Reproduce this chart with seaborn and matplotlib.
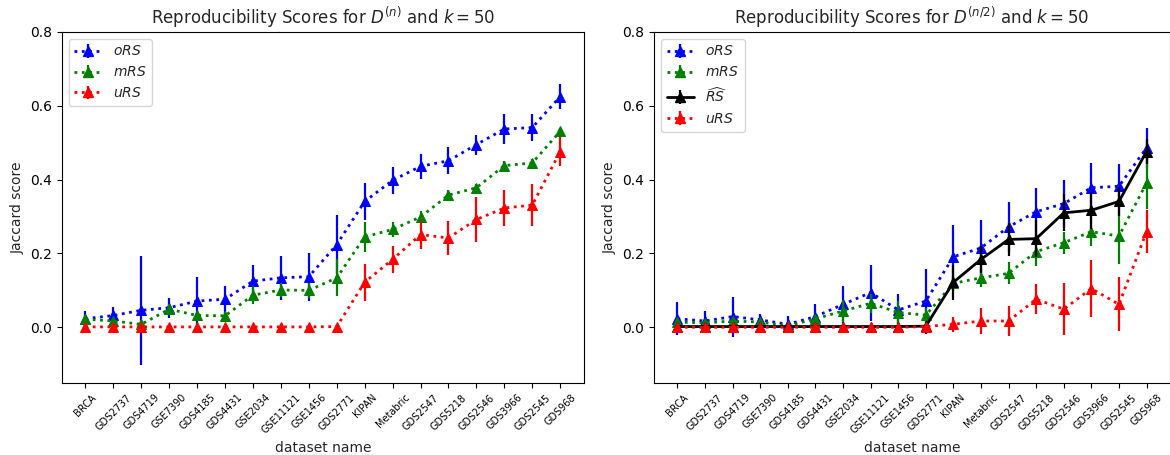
import numpy as np
import pandas as pd
import matplotlib
matplotlib.use("Agg")
import matplotlib.pyplot as plt
import seaborn as sns

datasets = ["BRCA", "GDS2737", "GDS4719", "GSE7390", "GDS4185", "GDS4431", "GSE2034",
            "GSE11121", "GSE1456", "GDS2771", "KIPAN", "Metabric", "GDS2547", "GDS5218",
            "GDS2546", "GDS3966", "GDS2545", "GDS968"]

# Panel 1: D^(n)
ors_full = [0.023, 0.032, 0.046, 0.053, 0.071, 0.076, 0.125, 0.134, 0.137, 0.224,
            0.341, 0.398, 0.436, 0.451, 0.495, 0.537, 0.541, 0.625]
ors_full_err = [0.022, 0.022, 0.147, 0.027, 0.066, 0.036, 0.045, 0.059, 0.065, 0.080,
                0.050, 0.036, 0.034, 0.037, 0.027, 0.041, 0.037, 0.034]
mrs_full = [0.022, 0.017, 0.008, 0.049, 0.032, 0.031, 0.087, 0.101, 0.100, 0.134,
            0.245, 0.265, 0.299, 0.358, 0.378, 0.438, 0.445, 0.531]
mrs_full_err = [0.010, 0.010, 0.006, 0.015, 0.010, 0.010, 0.025, 0.020, 0.020, 0.050,
                0.040, 0.020, 0.015, 0.015, 0.010, 0.012, 0.010, 0.010]
urs_full = [0.001, 0.001, 0.001, 0.001, 0.001, 0.001, 0.001, 0.001, 0.001, 0.002,
            0.122, 0.184, 0.251, 0.242, 0.292, 0.323, 0.331, 0.476]
urs_full_err = [0.0, 0.0, 0.0, 0.0, 0.0, 0.0, 0.0, 0.0, 0.0, 0.0,
                0.050, 0.037, 0.038, 0.045, 0.060, 0.048, 0.058, 0.040]

# Panel 2: D^(n/2)
ors_half = [0.023, 0.017, 0.029, 0.020, 0.008, 0.029, 0.062, 0.094, 0.047, 0.071,
            0.191, 0.215, 0.272, 0.313, 0.335, 0.378, 0.382, 0.486]
ors_half_err = [0.045, 0.027, 0.054, 0.015, 0.022, 0.033, 0.050, 0.076, 0.042, 0.088,
                0.087, 0.075, 0.067, 0.065, 0.063, 0.067, 0.060, 0.054]
mrs_half = [0.014, 0.012, 0.017, 0.014, 0.004, 0.023, 0.044, 0.065, 0.040, 0.033,
            0.119, 0.134, 0.146, 0.205, 0.229, 0.259, 0.247, 0.391]
mrs_half_err = [0.010, 0.008, 0.010, 0.008, 0.005, 0.010, 0.030, 0.025, 0.030, 0.020,
                0.020, 0.025, 0.030, 0.040, 0.030, 0.040, 0.075, 0.070]
rs_half = [0.002, 0.002, 0.002, 0.002, 0.002, 0.002, 0.002, 0.002, 0.002, 0.003,
           0.122, 0.184, 0.238, 0.240, 0.310, 0.317, 0.341, 0.476]
rs_half_err = [0.0, 0.0, 0.0, 0.0, 0.0, 0.0, 0.0, 0.0, 0.0, 0.0,
               0.048, 0.037, 0.045, 0.050, 0.050, 0.050, 0.040, 0.035]
urs_half = [0.0, 0.0, 0.0, 0.0, 0.0, 0.0, 0.0, 0.0, 0.0, 0.002,
            0.008, 0.017, 0.017, 0.076, 0.049, 0.105, 0.062, 0.259]
urs_half_err = [0.0, 0.0, 0.0, 0.0, 0.0, 0.0, 0.0, 0.0, 0.0, 0.0,
                0.020, 0.036, 0.040, 0.040, 0.070, 0.078, 0.073, 0.058]

sns.set_style("ticks")
plt.rcParams['font.family'] = ['DejaVu Sans']
plt.rcParams['mathtext.fontset'] = 'dejavusans'

fig = plt.figure(figsize=(11.7, 4.55), dpi=100)
ax1 = fig.add_axes([0.0527, 0.159, 0.4464, 0.7708])
ax2 = fig.add_axes([0.559, 0.159, 0.441, 0.7708])

LW = 2.0


def draw(ax, y, err, color, ls, label):
    df = pd.DataFrame({"dataset": datasets, "score": y})
    sns.lineplot(data=df, x="dataset", y="score", ax=ax, color=color, linestyle=ls,
                 linewidth=LW, marker="^", markersize=7, markeredgecolor=color,
                 sort=False, legend=False)
    ax.errorbar(datasets, y, yerr=err, fmt="none", ecolor=color, elinewidth=1.6)
    # legend proxy in errorbar style
    h = ax.errorbar([np.nan], [np.nan], yerr=[np.nan], fmt="^", linestyle=ls,
                    color=color, linewidth=LW, markersize=7, elinewidth=1.6,
                    label=label)
    return h


draw(ax1, ors_full, ors_full_err, "blue", ":", r"$oRS$")
draw(ax1, mrs_full, mrs_full_err, "green", ":", r"$mRS$")
draw(ax1, urs_full, urs_full_err, "red", ":", r"$uRS$")

draw(ax2, ors_half, ors_half_err, "blue", ":", r"$oRS$")
draw(ax2, mrs_half, mrs_half_err, "green", ":", r"$mRS$")
draw(ax2, rs_half, rs_half_err, "black", "-", r"$\widehat{RS}$")
draw(ax2, urs_half, urs_half_err, "red", ":", r"$uRS$")

titles = [r"Reproducibility Scores for $D^{(n)}$ and $k = 50$",
          r"Reproducibility Scores for $D^{(n/2)}$ and $k = 50$"]
for ax, t in zip([ax1, ax2], titles):
    ax.set_ylim(-0.15, 0.8)
    ax.set_yticks([0.0, 0.2, 0.4, 0.6, 0.8])
    ax.tick_params(axis="y", labelsize=10)
    ax.tick_params(axis="x", labelsize=7, labelrotation=45)
    ax.set_xlabel("dataset name", fontsize=10)
    ax.set_ylabel("Jaccard score", fontsize=10)
    ax.set_title(t, fontsize=12)
    ax.legend(loc="upper left", fontsize=10, handlelength=2.0)
    for s in ax.spines.values():
        s.set_visible(True)
        s.set_color("black")
        s.set_linewidth(0.8)
    ax.tick_params(colors="black")

fig.savefig("out.png", dpi=100)
